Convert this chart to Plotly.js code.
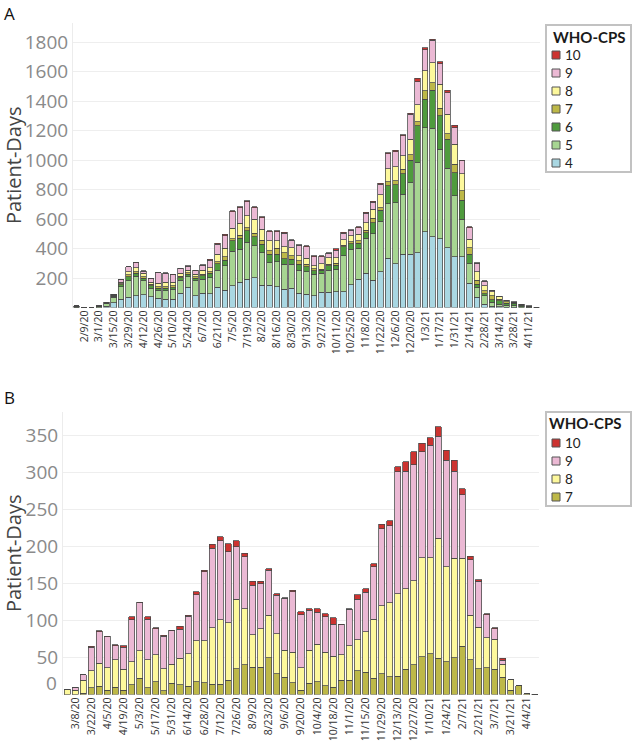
<!DOCTYPE html>
<html>
<head>
<meta charset="utf-8">
<script src="https://cdn.plot.ly/plotly-3.0.1.min.js"></script>
<style>html,body{margin:0;padding:0;background:#fff;}#chart{width:633px;height:742px;}</style>
</head>
<body>
<div id="chart"></div>
<script>
// ---------- Panel A data ----------
const catsA = ['2/2/20','2/9/20','2/23/20','3/1/20','3/8/20','3/15/20','3/22/20','3/29/20','4/5/20','4/12/20','4/19/20','4/26/20','5/3/20','5/10/20','5/17/20','5/24/20','5/31/20','6/7/20','6/14/20','6/21/20','6/28/20','7/5/20','7/12/20','7/19/20','7/26/20','8/2/20','8/9/20','8/16/20','8/23/20','8/30/20','9/6/20','9/13/20','9/20/20','9/27/20','10/4/20','10/11/20','10/18/20','10/25/20','11/1/20','11/8/20','11/15/20','11/22/20','11/29/20','12/6/20','12/13/20','12/20/20','12/27/20','1/3/21','1/10/21','1/17/21','1/24/21','1/31/21','2/7/21','2/14/21','2/21/21','2/28/21','3/7/21','3/14/21','3/21/21','3/28/21','4/4/21','4/11/21','4/18/21'];
const tickA = ['2/9/20','3/1/20','3/15/20','3/29/20','4/12/20','4/26/20','5/10/20','5/24/20','6/7/20','6/21/20','7/5/20','7/19/20','8/2/20','8/16/20','8/30/20','9/13/20','9/27/20','10/11/20','10/25/20','11/8/20','11/22/20','12/6/20','12/20/20','1/3/21','1/17/21','1/31/21','2/14/21','2/28/21','3/14/21','3/28/21','4/11/21'];
const a4  = [0,0,0,0,10,32,56,68,79,86,72,63,56,56,97,136,79,97,95,136,118,147,170,192,203,151,151,142,124,131,97,90,79,102,102,108,108,154,192,231,185,244,334,298,362,362,373,513,479,468,407,344,346,163,68,23,7,5,2,2,0,0,0];
const a5  = [3,2,0,4,14,38,84,113,133,95,59,55,57,68,88,72,102,95,108,117,165,233,226,249,215,222,154,168,170,163,156,154,147,131,151,152,242,242,210,239,317,339,371,414,406,486,610,707,737,606,538,413,253,135,68,56,27,18,14,12,6,2,0];
const a6  = [5,0,0,6,4,7,14,27,21,18,16,13,18,11,18,18,18,23,28,45,38,72,74,79,61,56,57,52,38,34,41,34,23,20,30,27,61,38,34,38,74,77,120,120,141,151,249,193,257,226,196,158,129,64,22,16,18,22,14,14,9,5,2];
const a7  = [0,0,0,0,0,3,6,13,11,11,11,11,11,11,9,9,9,11,13,14,23,16,20,22,25,28,22,40,41,22,22,16,15,7,11,14,12,13,16,16,30,18,27,27,29,36,29,56,53,51,39,57,63,45,27,18,27,11,9,5,4,2,0];
const a8  = [0,0,0,0,2,4,12,23,27,21,12,21,28,24,19,19,18,27,27,50,58,68,82,80,95,74,68,50,38,57,34,40,19,38,45,38,36,39,45,52,61,86,90,95,90,106,113,136,135,163,131,135,118,56,59,34,29,16,7,3,2,0,0];
const a9  = [3,0,0,3,4,6,19,32,32,16,27,72,63,52,34,25,23,32,50,67,86,113,106,94,79,79,61,61,93,50,72,77,63,48,29,50,45,38,45,63,47,72,102,104,136,170,156,142,152,140,147,113,86,79,57,30,8,3,2,1,1,1,0];
const a10 = [0,0,0,0,0,0,1,2,4,2,2,2,4,4,2,4,4,4,7,7,9,6,7,7,7,7,7,7,7,4,5,7,4,4,5,9,7,5,7,7,7,7,7,9,7,7,25,16,6,14,16,18,4,5,4,4,2,2,2,1,1,1,0];

// ---------- Panel B data ----------
const catsB = ['3/1/20','3/8/20','3/15/20','3/22/20','3/29/20','4/5/20','4/12/20','4/19/20','4/26/20','5/3/20','5/10/20','5/17/20','5/24/20','5/31/20','6/7/20','6/14/20','6/21/20','6/28/20','7/5/20','7/12/20','7/19/20','7/26/20','8/2/20','8/9/20','8/16/20','8/23/20','8/30/20','9/6/20','9/13/20','9/20/20','9/27/20','10/4/20','10/11/20','10/18/20','10/25/20','11/1/20','11/8/20','11/15/20','11/22/20','11/29/20','12/6/20','12/13/20','12/20/20','12/27/20','1/3/21','1/10/21','1/17/21','1/24/21','1/31/21','2/7/21','2/14/21','2/21/21','2/28/21','3/7/21','3/14/21','3/21/21','3/28/21','4/4/21','4/11/21'];
const tickB = ['3/8/20','3/22/20','4/5/20','4/19/20','5/3/20','5/17/20','5/31/20','6/14/20','6/28/20','7/12/20','7/26/20','8/9/20','8/23/20','9/6/20','9/20/20','10/4/20','10/18/20','11/1/20','11/15/20','11/29/20','12/13/20','12/27/20','1/10/21','1/24/21','2/7/21','2/21/21','3/7/21','3/21/21','4/4/21'];
const b7  = [0,0,2,9,11,6,10,6,13,22,9,17,5,15,13,11,17,16,14,14,19,35,40,37,37,50,28,23,16,6,15,17,12,10,19,19,32,30,22,28,24,25,34,40,51,55,49,44,50,65,47,35,36,34,23,6,12,1,0.5];
const b8  = [7,6,17,23,31,30,37,28,31,37,38,37,30,26,36,44,56,57,76,87,78,94,76,44,52,57,54,37,41,30,45,51,45,42,35,47,42,55,80,92,100,111,109,114,134,130,162,129,134,119,60,56,41,41,18,14,0,0,0];
const b9  = [0,4,8,32,43,42,19,30,57,65,55,35,44,45,39,51,62,93,108,107,96,71,70,67,61,61,52,70,82,72,54,43,48,43,40,49,55,53,71,104,104,165,159,157,143,152,138,144,118,86,75,62,31,14,5,0,0,0,0];
const b10 = [0,0,0,1,1,1,1,2,4,1,3,1,1,1,4,1,4,2,5,5,11,8,5,5,3,2,2,1,2,4,2,5,4,9,1,1,6,5,4,6,7,7,13,17,12,10,13,13,15,8,5,2,1,1,3,0,0,0,0];

const yTicksA = [200,400,600,800,1000,1200,1400,1600,1800];
const yTicksB = [50,100,150,200,250,300,350];
const legendA = ['10','9','8','7','6','5','4'];
const legendB = ['10','9','8','7'];
const legendTitle = 'WHO-CPS';

const colors = {'4':'#a9d7e2','5':'#a7d592','6':'#4f9b3d','7':'#bdb848','8':'#fdf89c','9':'#ebb9d4','10':'#cc3330'};
const lineCol = 'rgba(70,70,70,0.85)';

function bar(x, y, name, xa, ya) {
  return {type:'bar', x:x, y:y, name:name, xaxis:xa, yaxis:ya, showlegend:false,
    marker:{color:colors[name], line:{color:lineCol, width:0.9}}, hoverinfo:'skip'};
}

const traces = [
  bar(catsA,a4,'4','x','y'),
  bar(catsA,a5,'5','x','y'),
  bar(catsA,a6,'6','x','y'),
  bar(catsA,a7,'7','x','y'),
  bar(catsA,a8,'8','x','y'),
  bar(catsA,a9,'9','x','y'),
  bar(catsA,a10,'10','x','y'),
  bar(catsB,b7,'7','x2','y2'),
  bar(catsB,b8,'8','x2','y2'),
  bar(catsB,b9,'9','x2','y2'),
  bar(catsB,b10,'10','x2','y2')
];

const W = 633, H = 742;
const px = v => v / W, py = v => (H - v) / H;

const tickFontY = {family:'Open Sans, sans-serif', size:19, color:'#8a8a8a'};
const tickFontX = {family:'Open Sans, sans-serif', size:10.5, color:'#333'};
const titleFont = {family:'Open Sans, sans-serif', size:20, color:'#444'};
const legFont = {family:'Lato, sans-serif', size:13.5, color:'#222'};

const shapes = [];
const annotations = [
  {text:'A', xref:'paper', yref:'paper', x:px(2), y:py(0), xanchor:'left', yanchor:'top', showarrow:false,
    font:{family:'Open Sans, sans-serif', size:17, color:'#111'}},
  {text:'B', xref:'paper', yref:'paper', x:px(2), y:py(384), xanchor:'left', yanchor:'top', showarrow:false,
    font:{family:'Open Sans, sans-serif', size:17, color:'#111'}},
  {text:'0', xref:'paper', yref:'y2', x:px(59), y:15.5, xanchor:'right', yanchor:'middle', showarrow:false,
    font:tickFontY}
];

function addLegend(items, box, titleY, titleX, titleAnchor, firstY) {
  shapes.push({type:'rect', xref:'paper', yref:'paper', x0:px(box[0]), x1:px(box[1]), y0:py(box[3]), y1:py(box[2]),
    line:{color:'#c2c2c2', width:2}, fillcolor:'#fff', layer:'above'});
  annotations.push({text:'<b>'+legendTitle+'</b>', xref:'paper', yref:'paper', x:px(titleX), y:py(titleY),
    xanchor:titleAnchor, yanchor:'middle', showarrow:false, borderpad:0,
    font:{family:'Lato, sans-serif', size:15, color:'#1a1a1a'}});
  items.forEach((k, i) => {
    const cy = firstY + i * 18;
    shapes.push({type:'rect', xref:'paper', yref:'paper', x0:px(552), x1:px(560), y0:py(cy+4), y1:py(cy-4),
      line:{color:'#555', width:1}, fillcolor:colors[k], layer:'above'});
    annotations.push({text:k, xref:'paper', yref:'paper', x:px(564), y:py(cy), xanchor:'left', yanchor:'middle',
      showarrow:false, borderpad:0, font:legFont});
  });
}
addLegend(legendA, [546, 631, 25, 172], 37, 589, 'center', 55);
addLegend(legendB, [546, 631, 412, 506], 423, 548, 'left', 443);

const layout = {
  width:W, height:H, margin:{l:0,r:0,t:0,b:0},
  paper_bgcolor:'#fff', plot_bgcolor:'#fff',
  barmode:'stack', bargap:0.25, showlegend:false,
  font:{family:'Open Sans, sans-serif'},
  xaxis:{domain:[px(73),px(540)], anchor:'y', type:'category', categoryorder:'array', categoryarray:catsA,
    range:[-0.5, catsA.length-0.5], tickmode:'array', tickvals:tickA, ticktext:tickA, tickangle:-90,
    tickfont:tickFontX, showgrid:false, zeroline:false, showline:false, ticks:''},
  yaxis:{domain:[py(307.5),py(23)], anchor:'x', range:[0,1930], tickmode:'array', tickvals:yTicksA,
    tickfont:tickFontY, gridcolor:'#eeeeee', zeroline:false, showline:true, linecolor:'#ececec', ticks:'',
    title:{text:'Patient-Days', font:titleFont, standoff:6}},
  xaxis2:{domain:[px(63),px(539)], anchor:'y2', type:'category', categoryorder:'array', categoryarray:catsB,
    range:[-0.5, catsB.length-0.5], tickmode:'array', tickvals:tickB, ticktext:tickB, tickangle:-90,
    tickfont:tickFontX, showgrid:false, zeroline:false, showline:false, ticks:''},
  yaxis2:{domain:[py(694.5),py(412)], anchor:'x2', range:[0,382], tickmode:'array', tickvals:yTicksB,
    tickfont:tickFontY, gridcolor:'#eeeeee', zeroline:false, showline:true, linecolor:'#ececec', ticks:'',
    title:{text:'Patient-Days', font:titleFont, standoff:6}},
  shapes:shapes,
  annotations:annotations
};

Plotly.newPlot('chart', traces, layout, {displayModeBar:false, staticPlot:true});
</script>
</body>
</html>
